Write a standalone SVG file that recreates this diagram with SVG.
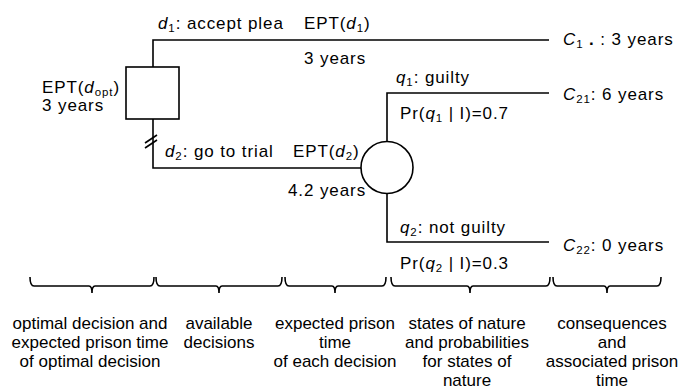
<svg xmlns="http://www.w3.org/2000/svg" width="681" height="391" viewBox="0 0 681 391">
<style>
text{font-family:"Liberation Sans",Arial,sans-serif;font-size:17px;fill:#000}
.t{letter-spacing:0.9px}
.i{font-style:italic}
.s{font-size:11.5px}
.c{text-anchor:middle}
.ln{fill:none;stroke:#000;stroke-width:1.6}
.br{fill:none;stroke:#000;stroke-width:1.6}
</style>
<rect width="681" height="391" fill="#fff"/>
<g id="connectors">
<path class="ln" d="M153,67 V40 H549"/>
<path class="ln" d="M153,119 V168 H361"/>
<path class="ln" d="M387,141 V93 H549"/>
<path class="ln" d="M387,194 V242 H549"/>
<path class="ln" stroke-width="1" d="M145,143 L157,135 M145,148 L157,140"/>
</g>
<g id="decision-node">
<rect class="ln" x="126" y="67" width="53" height="52"/>
<text class="t" x="42" y="93">EPT(<tspan class="i">d</tspan><tspan class="s" dy="3">opt</tspan><tspan dy="-3">)</tspan></text>
<text class="t" x="42" y="111">3 years</text>
</g>
<g id="chance-node">
<circle class="ln" cx="387" cy="167.5" r="26"/>
</g>
<g id="branch-d1">
<text class="t" x="158" y="28.5"><tspan class="i">d</tspan><tspan class="s" dy="3">1</tspan><tspan dy="-3">: accept plea</tspan></text>
<text class="t" x="304" y="28.5">EPT(<tspan class="i">d</tspan><tspan class="s" dy="3">1</tspan><tspan dy="-3">)</tspan></text>
<text class="t" x="304" y="63.5">3 years</text>
</g>
<g id="branch-d2">
<text class="t" x="165" y="157"><tspan class="i">d</tspan><tspan class="s" dy="3">2</tspan><tspan dy="-3">: go to trial</tspan></text>
<text class="t" x="293" y="157">EPT(<tspan class="i">d</tspan><tspan class="s" dy="3">2</tspan><tspan dy="-3">)</tspan></text>
<text class="t" x="288" y="196">4.2 years</text>
</g>
<g id="branch-q1">
<text class="t" x="396" y="83"><tspan class="i">q</tspan><tspan class="s" dy="3">1</tspan><tspan dy="-3">: guilty</tspan></text>
<text class="t" x="400" y="119">Pr(<tspan class="i">q</tspan><tspan class="s" dy="3">1</tspan><tspan dy="-3"> | I)=0.7</tspan></text>
</g>
<g id="branch-q2">
<text class="t" x="400" y="233"><tspan class="i">q</tspan><tspan class="s" dy="3">2</tspan><tspan dy="-3">: not guilty</tspan></text>
<text class="t" x="400" y="269">Pr(<tspan class="i">q</tspan><tspan class="s" dy="3">2</tspan><tspan dy="-3"> | I)=0.3</tspan></text>
</g>
<g id="consequence-c1">
<text class="t" x="563" y="45"><tspan class="i">C</tspan><tspan class="s" dy="3">1</tspan><tspan dy="-3" font-weight="bold"> . </tspan><tspan>: 3 years</tspan></text>
</g>
<g id="consequence-c21">
<text class="t" x="563" y="100"><tspan class="i">C</tspan><tspan class="s" dy="3">21</tspan><tspan dy="-3">: 6 years</tspan></text>
</g>
<g id="consequence-c22">
<text class="t" x="563" y="251"><tspan class="i">C</tspan><tspan class="s" dy="3">22</tspan><tspan dy="-3">: 0 years</tspan></text>
</g>
<g id="braces">
<path class="br" d="M30,277 Q30,286 34,286 H89 Q92,286 92,293 Q92,286 95,286 H150 Q154,286 154,277"/>
<path class="br" d="M156,277 Q156,286 160,286 H216 Q219,286 219,293 Q219,286 222,286 H278 Q282,286 282,277"/>
<path class="br" d="M285,277 Q285,286 289,286 H332 Q335,286 335,293 Q335,286 338,286 H382 Q386,286 386,277"/>
<path class="br" d="M391,277 Q391,286 395,286 H467 Q470,286 470,293 Q470,286 473,286 H546 Q550,286 550,277"/>
<path class="br" d="M553,277 Q553,286 557,286 H604 Q607,286 607,293 Q607,286 610,286 H657 Q661,286 661,277"/>
</g>
<g id="labels">
<text class="c" x="90" y="329">optimal decision and</text>
<text class="c" x="90" y="348">expected prison time</text>
<text class="c" x="90" y="367">of optimal decision</text>
<text class="c" x="219" y="329">available</text>
<text class="c" x="219" y="348">decisions</text>
<text class="c" x="335" y="329">expected prison</text>
<text class="c" x="335" y="348">time</text>
<text class="c" x="335" y="367">of each decision</text>
<text class="c" x="467" y="329">states of nature</text>
<text class="c" x="467" y="348">and probabilities</text>
<text class="c" x="467" y="367">for states of</text>
<text class="c" x="467" y="386">nature</text>
<text class="c" x="612" y="329">consequences</text>
<text class="c" x="612" y="348">and</text>
<text class="c" x="612" y="367">associated prison</text>
<text class="c" x="612" y="386">time</text>
</g>
</svg>
